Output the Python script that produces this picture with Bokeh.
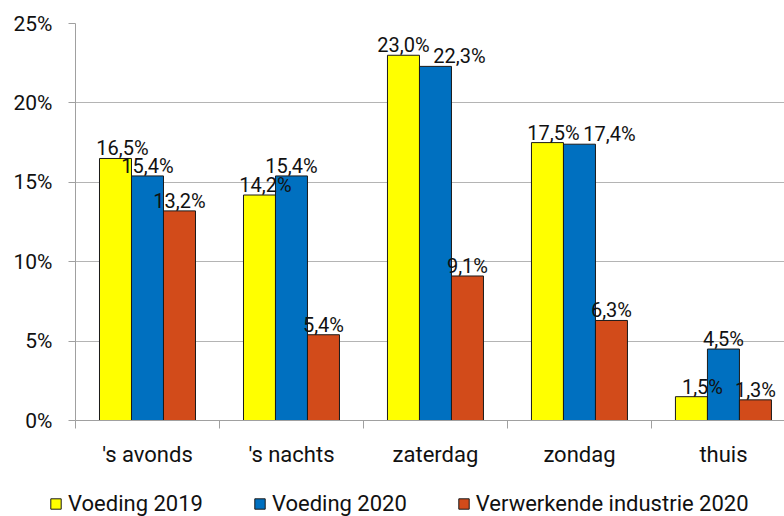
from bokeh.plotting import figure
from bokeh.layouts import column
from bokeh.models import (ColumnDataSource, Range1d, FixedTicker, PrintfTickFormatter,
                          Legend, LegendItem)
from bokeh.core.properties import value
from bokeh.embed import file_html
from bokeh.resources import INLINE

# ---- data ----
categories = ["'s avonds", "'s nachts", "zaterdag", "zondag", "thuis"]
series_names = ["Voeding 2019", "Voeding 2020", "Verwerkende industrie 2020"]
voeding_2019 = [16.5, 14.2, 23.0, 17.5, 1.5]
voeding_2020 = [15.4, 15.4, 22.3, 17.4, 4.5]
verwerkende_2020 = [13.2, 5.4, 9.1, 6.3, 1.3]
y_ticks = [0, 5, 10, 15, 20, 25]

# ---- style ----
colors = ["#FFFF00", "#0070C0", "#D24B1A"]
label_dx = [[7, 6, 0, 6, 11], [0, 0, 24, 30, 0], [0, 0, 0, 0, 0]]  # label nudges (px)
FONT = "Roboto"
GRID = "#B4B4B4"
AXIS = "#A0A0A0"
EDGE = "#1a1a1a"

bar_w = 2.0 / 9.0
offsets = [-bar_w, 0.0, bar_w]

p = figure(frame_width=709, frame_height=397, output_backend="svg", toolbar_location=None,
           x_range=Range1d(0, 4.924), y_range=Range1d(0, 25),
           min_border_left=75, min_border_right=0, min_border_top=23,
           min_border_bottom=55)
p.outline_line_color = None
p.xgrid.grid_line_color = None
p.ygrid.grid_line_color = GRID
p.ygrid.grid_line_width = 1
p.background_fill_color = "white"
p.border_fill_color = "white"

centers = [i + 0.5 for i in range(len(categories))]
sources = []
for s, vals in enumerate([voeding_2019, voeding_2020, verwerkende_2020]):
    xs = [c + offsets[s] for c in centers]
    src = ColumnDataSource(dict(
        x=xs, top=vals,
        lab=[f"{v:.1f}".replace(".", ",") + "%" for v in vals],
        dx=label_dx[s]))
    sources.append(src)
    p.vbar(x="x", top="top", width=bar_w, bottom=0, source=src,
           fill_color=colors[s], line_color=EDGE, line_width=1)

for src in sources:
    p.text(x="x", y="top", text="lab", source=src, x_offset="dx", y_offset=-10,
           text_align="center", text_baseline="alphabetic",
           text_font=value(FONT), text_font_size="20px", text_color="#111111")

# x axis
xa = p.xaxis[0]
xa.ticker = FixedTicker(ticks=centers, minor_ticks=list(range(len(categories) + 1)))
xa.major_label_overrides = {c: cat for c, cat in zip(centers, categories)}
xa.major_tick_line_color = None
xa.major_tick_out = 0
xa.major_tick_in = 0
xa.minor_tick_line_color = AXIS
xa.minor_tick_out = 8
xa.minor_tick_in = 0
xa.axis_line_color = AXIS
xa.major_label_standoff = 13
xa.major_label_text_font = FONT
xa.major_label_text_font_size = "22px"
xa.major_label_text_color = "#111111"

# y axis
ya = p.yaxis[0]
ya.ticker = FixedTicker(ticks=y_ticks)
ya.formatter = PrintfTickFormatter(format="%d%%")
ya.axis_line_color = AXIS
ya.major_tick_line_color = AXIS
ya.major_tick_out = 7
ya.major_tick_in = 0
ya.minor_tick_line_color = None
ya.major_label_standoff = 16
ya.major_label_text_font = FONT
ya.major_label_text_font_size = "21px"
ya.major_label_text_color = "#111111"

# legend strip below the chart (swatch renderers sit just outside the visible range)
lf = figure(frame_width=784, frame_height=41, output_backend="svg", toolbar_location=None,
            x_range=Range1d(0, 1), y_range=Range1d(0, 1),
            x_axis_type=None, y_axis_type=None, min_border=0)
lf.outline_line_color = None
lf.background_fill_color = "white"
lf.border_fill_color = "white"
leg_renderers = [lf.vbar(x=[1.5], top=[1], width=0.01, fill_color=c, line_color=EDGE, line_width=1)
                 for c in colors]
legend = Legend(items=[LegendItem(label=n, renderers=[r]) for n, r in zip(series_names, leg_renderers)],
                orientation="horizontal", location=(49, 0), spacing=50,
                label_standoff=6, glyph_width=13, glyph_height=13,
                padding=0, margin=0, border_line_color=None, background_fill_alpha=0,
                label_text_font=FONT, label_text_font_size="22px",
                label_text_color="#111111")
lf.add_layout(legend, "center")

layout = column(p, lf, spacing=0)
open("out.html", "w").write(file_html(layout, INLINE))
